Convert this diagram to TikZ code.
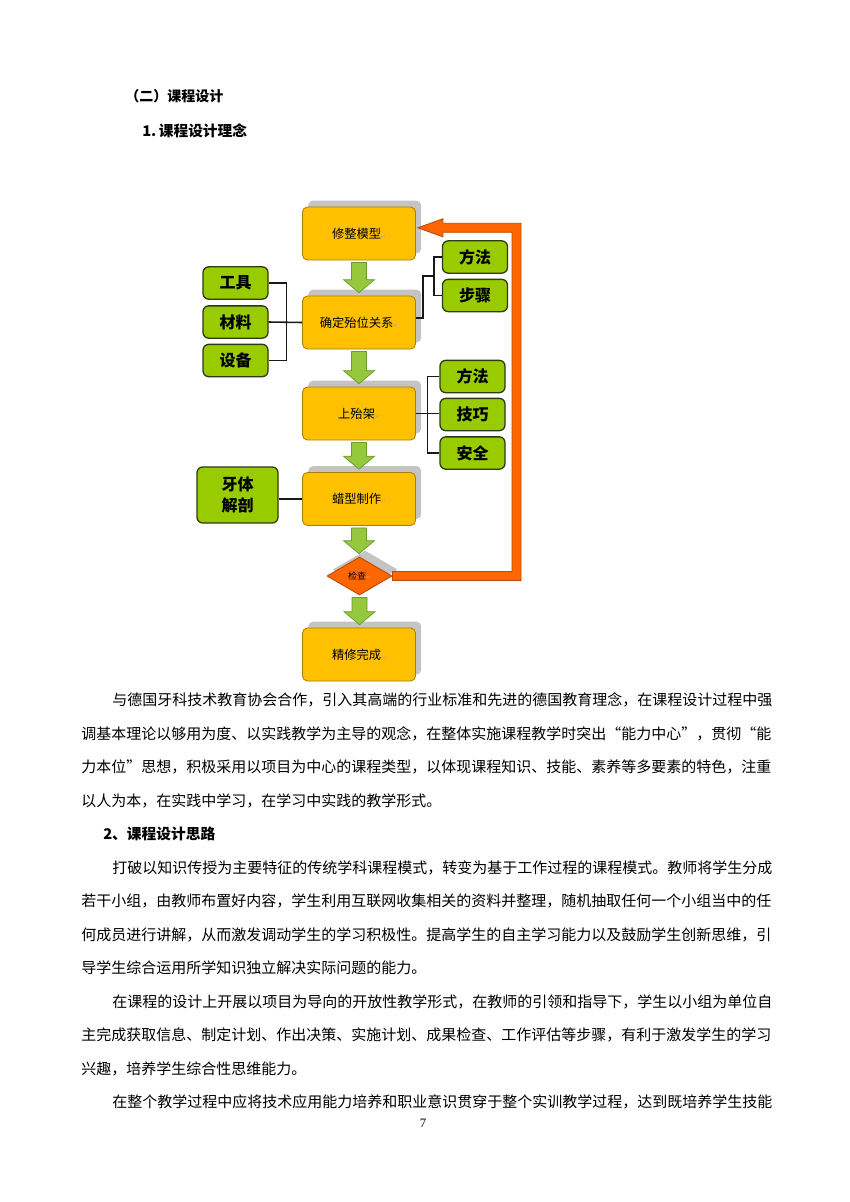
\documentclass[tikz,border=0pt]{standalone}
\usepackage{fontspec}
\setmainfont{Liberation Serif}
\newfontfamily\cjk{Noto Sans CJK SC}
\newfontfamily\dv{DejaVu Sans}
\usetikzlibrary{shapes.geometric,shadows,calc}
\XeTeXlinebreaklocale "zh"
\XeTeXlinebreakskip=0pt plus 1pt
\definecolor{boxyellow}{HTML}{FFC000}
\definecolor{boxyellowline}{HTML}{A88000}
\definecolor{boxgreen}{HTML}{99CC00}
\definecolor{boxgreenline}{HTML}{2E3A12}
\definecolor{arrgreen}{HTML}{95C83C}
\definecolor{arrgreenline}{HTML}{6E9A2A}
\definecolor{loopor}{HTML}{FF6600}
\definecolor{looporline}{HTML}{B84800}
\definecolor{shadowgray}{HTML}{C4C4C4}
\newcommand{\pmark}{{\dv\fontsize{4}{4}\selectfont\color{black!35}↵}}
\newcommand{\fullln}[1]{\hbox to 480.9pt{#1}}
\newcommand{\indln}[1]{\hbox to 459.2pt{#1}}
\newcommand{\garrow}[2]{%
  \draw[garrowstyle] let \p1=(#1), \p2=(#2) in
    (\x1-5.25pt,\y1-1.4pt) -- (\x1+5.25pt,\y1-1.4pt) -- (\x1+5.25pt,\y2+11.1pt)
    -- (\x1+10.85pt,\y2+11.1pt) -- (\x1,\y2+2pt) -- (\x1-10.85pt,\y2+11.1pt)
    -- (\x1-5.25pt,\y2+11.1pt) -- cycle;}
\begin{document}
\begin{tikzpicture}[x=0.7pt,y=-0.7pt,
  stagebox/.style={rectangle, rounded corners=3.5pt, fill=boxyellow, draw=boxyellowline,
    line width=0.6pt, minimum width=79.1pt, minimum height=37.1pt, inner sep=0pt,
    font=\cjk\fontsize{8.6}{10}\selectfont,
    drop shadow={shadow xshift=4pt, shadow yshift=4.5pt, fill=shadowgray, opacity=1}},
  itembox/.style={rectangle, rounded corners=4pt, fill=boxgreen, draw=boxgreenline,
    line width=0.9pt, minimum width=45.5pt, minimum height=22.6pt, inner sep=0pt,
    font=\cjk\bfseries\fontsize{11.2}{14.7}\selectfont},
  checkbox/.style={diamond, aspect=1.7, fill=loopor, draw=looporline, line width=0.6pt,
    minimum width=45.5pt, minimum height=26.6pt, inner sep=0pt,
    font=\cjk\fontsize{6.3}{7}\selectfont,
    drop shadow={shadow xshift=4pt, shadow yshift=4.5pt, fill=shadowgray, opacity=1}},
  garrowstyle/.style={fill=arrgreen, draw=arrgreenline, line width=0.5pt, line join=miter},
  conn/.style={draw=black!90, line width=1.1pt},
  oloop/.style={fill=loopor, draw=looporline, line width=0.6pt, line join=miter},
  bodytext/.style={anchor=base west, inner sep=0pt, font=\cjk\fontsize{10.5}{12}\selectfont},
  headtext/.style={anchor=base west, inner sep=0pt, font=\cjk\bfseries\fontsize{10.3}{12}\selectfont}
]
\useasboundingbox[fill=white] (0,0) rectangle (850,1202);

% headings
\node[headtext, font=\cjk\bfseries\fontsize{9.8}{12}\selectfont] (h1) at (125,102) {（二）课程设计};
\node[headtext] (h2) at (142,137) {1.\,课程设计理念};

% stage boxes
\node[stagebox] (m1) at (359,233.5) {修整模型\pmark};
\node[stagebox] (m2) at (359,322.5) {确定殆位关系\pmark};
\node[stagebox] (m3) at (359,413.5) {上殆架\pmark};
\node[stagebox] (m4) at (359,499) {蜡型制作\pmark};
\node[checkbox] (chk) at (359.5,576) {检查\pmark};
\node[stagebox] (m5) at (359,654.5) {精修完成\pmark};

% item boxes
\node[itembox] (t1) at (235.5,283) {工具};
\node[itembox] (t2) at (235.5,322) {材料};
\node[itembox] (t3) at (235.5,360.5) {设备};
\node[itembox] (r1) at (475,257) {方法};
\node[itembox] (r2) at (475,295.5) {步骤};
\node[itembox] (s1) at (472.5,376.5) {方法};
\node[itembox] (s2) at (472.5,414.5) {技巧};
\node[itembox] (s3) at (472.5,453) {安全};
\node[itembox, minimum width=56.7pt, minimum height=39.2pt, align=center] (yt) at (237.5,495) {牙体\\解剖};

% connectors
\draw[conn] (t1.east) -- ++(12.6pt,0) |- (t3.east);
\draw[conn] (t2.east) -- (m2.west);
\draw[conn] ([yshift=3pt]m2.east) -- ++(4.9pt,0) |- ($(r1.west)!0.5!(r2.west)+(-5.6pt,0)$);
\draw[conn] (r1.west) -- ++(-5.6pt,0) |- (r2.west);
\draw[conn] (m3.east) -- (m3.east -| s2.west);
\draw[conn] (s1.west) -- ++(-8.4pt,0) |- (s3.west);
\draw[conn] (yt.east |- m4.west) -- (m4.west);

% green flow arrows
\garrow{m1.south}{m2.north}
\garrow{m2.south}{m3.north}
\garrow{m3.south}{m4.north}
\garrow{m4.south}{chk.north}
\garrow{chk.south}{m5.north}

% orange feedback loop
\coordinate (loopR) at (516.5,400);
\draw[oloop] let \p1=(chk.east), \p2=([yshift=4pt]m1.east), \p3=(loopR) in
  (\x1,\y1+3.15pt) -- (\x3-3.15pt,\y1+3.15pt) -- (\x3-3.15pt,\y2-3.15pt)
  -- (\x2+18.9pt,\y2-3.15pt) -- (\x2+18.9pt,\y2-6.3pt) -- (\x2+1.4pt,\y2)
  -- (\x2+18.9pt,\y2+6.3pt) -- (\x2+18.9pt,\y2+3.15pt) -- (\x3+3.15pt,\y2+3.15pt)
  -- (\x3+3.15pt,\y1-3.15pt) -- (\x1,\y1-3.15pt) -- cycle;

% body text
\node[bodytext] (p1a) at (112,705.5) {\indln{与德国牙科技术教育协会合作，引入其高端的行业标准和先进的德国教育理念，在课程设计过程中强}};
\node[bodytext] (p1b) at (81,739) {\fullln{调基本理论以够用为度、以实践教学为主导的观念，在整体实施课程教学时突出“能力中心”，贯彻“能}};
\node[bodytext] (p1c) at (81,772.5) {\fullln{力本位”思想，积极采用以项目为中心的课程类型，以体现课程知识、技能、素养等多要素的特色，注重}};
\node[bodytext] (p1d) at (81,806) {以人为本，在实践中学习，在学习中实践的教学形式。};
\node[headtext] (h3) at (103,839.5) {2、课程设计思路};
\node[bodytext] (p2a) at (112,873) {\indln{打破以知识传授为主要特征的传统学科课程模式，转变为基于工作过程的课程模式。教师将学生分成}};
\node[bodytext] (p2b) at (81,906.5) {\fullln{若干小组，由教师布置好内容，学生利用互联网收集相关的资料并整理，随机抽取任何一个小组当中的任}};
\node[bodytext] (p2c) at (81,940) {\fullln{何成员进行讲解，从而激发调动学生的学习积极性。提高学生的自主学习能力以及鼓励学生创新思维，引}};
\node[bodytext] (p2d) at (81,973.5) {导学生综合运用所学知识独立解决实际问题的能力。};
\node[bodytext] (p3a) at (112,1007) {\indln{在课程的设计上开展以项目为导向的开放性教学形式，在教师的引领和指导下，学生以小组为单位自}};
\node[bodytext] (p3b) at (81,1040.5) {\fullln{主完成获取信息、制定计划、作出决策、实施计划、成果检查、工作评估等步骤，有利于激发学生的学习}};
\node[bodytext] (p3c) at (81,1074) {兴趣，培养学生综合性思维能力。};
\node[bodytext] (p4a) at (112,1107.5) {\indln{在整个教学过程中应将技术应用能力培养和职业意识贯穿于整个实训教学过程，达到既培养学生技能}};
\node[inner sep=0pt, font=\fontsize{9}{10}\selectfont] (pg) at (423,1123) {7};
\end{tikzpicture}
\end{document}
